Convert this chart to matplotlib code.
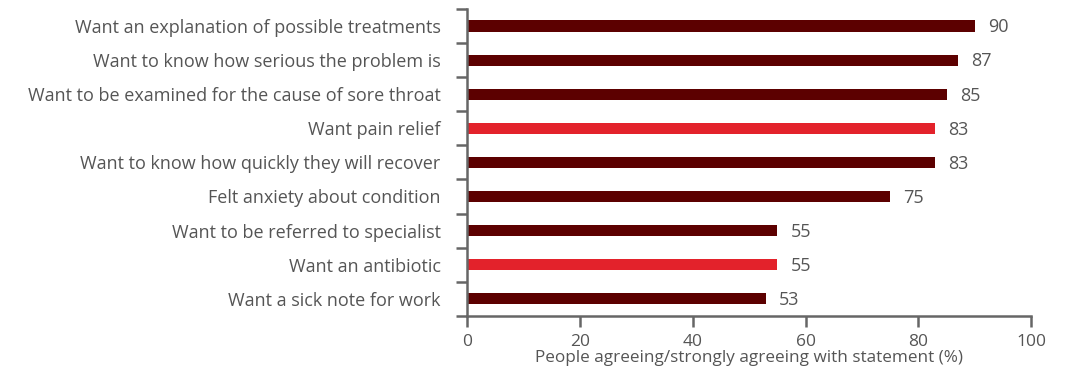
import matplotlib.pyplot as plt
import numpy as np

categories = [
    "Want an explanation of possible treatments",
    "Want to know how serious the problem is",
    "Want to be examined for the cause of sore throat",
    "Want pain relief",
    "Want to know how quickly they will recover",
    "Felt anxiety about condition",
    "Want to be referred to specialist",
    "Want an antibiotic",
    "Want a sick note for work",
]
values = [90, 87, 85, 83, 83, 75, 55, 55, 53]
highlight = [False, False, False, True, False, False, False, True, False]

DARK = "#5c0000"
BRIGHT = "#e3222b"
TEXT = "#555555"
AXIS = "#666666"
FS = 13

plt.rcParams["font.family"] = ["Open Sans", "DejaVu Sans"]

fig = plt.figure(figsize=(10.71, 3.75), dpi=100)
ax = fig.add_axes([0.436, 0.158, 0.527, 0.818])

y = np.arange(len(categories))
colors = [BRIGHT if h else DARK for h in highlight]
ax.barh(y, values, height=0.33, color=colors)

for yi, v in zip(y, values):
    ax.text(v + 2.3, yi + 0.04, str(v), va="center", ha="left", fontsize=FS, color=TEXT)

ax.set_ylim(len(categories) - 0.5, -0.5)
ax.set_xlim(0, 100)

# category labels between boundary ticks
ax.set_yticks(np.arange(-0.5, len(categories)), minor=False)
ax.set_yticklabels([])
ax.set_yticks(y, minor=True)
ax.set_yticklabels(categories, minor=True)
ax.tick_params(axis="y", which="major", direction="out", length=8, width=1.8, color=AXIS)
ax.tick_params(axis="y", which="minor", length=0, pad=19, labelsize=FS, labelcolor=TEXT)

ax.set_xticks([0, 20, 40, 60, 80, 100])
ax.tick_params(axis="x", direction="out", length=8, width=1.8, color=AXIS,
               labelsize=12.5, labelcolor=TEXT, pad=5)
ax.set_xlabel("People agreeing/strongly agreeing with statement (%)",
              fontsize=12.3, color=TEXT, labelpad=0)

for side in ["top", "right"]:
    ax.spines[side].set_visible(False)
for side in ["left", "bottom"]:
    ax.spines[side].set_color(AXIS)
    ax.spines[side].set_linewidth(1.8)

fig.savefig("out.png", dpi=100, facecolor="white")
